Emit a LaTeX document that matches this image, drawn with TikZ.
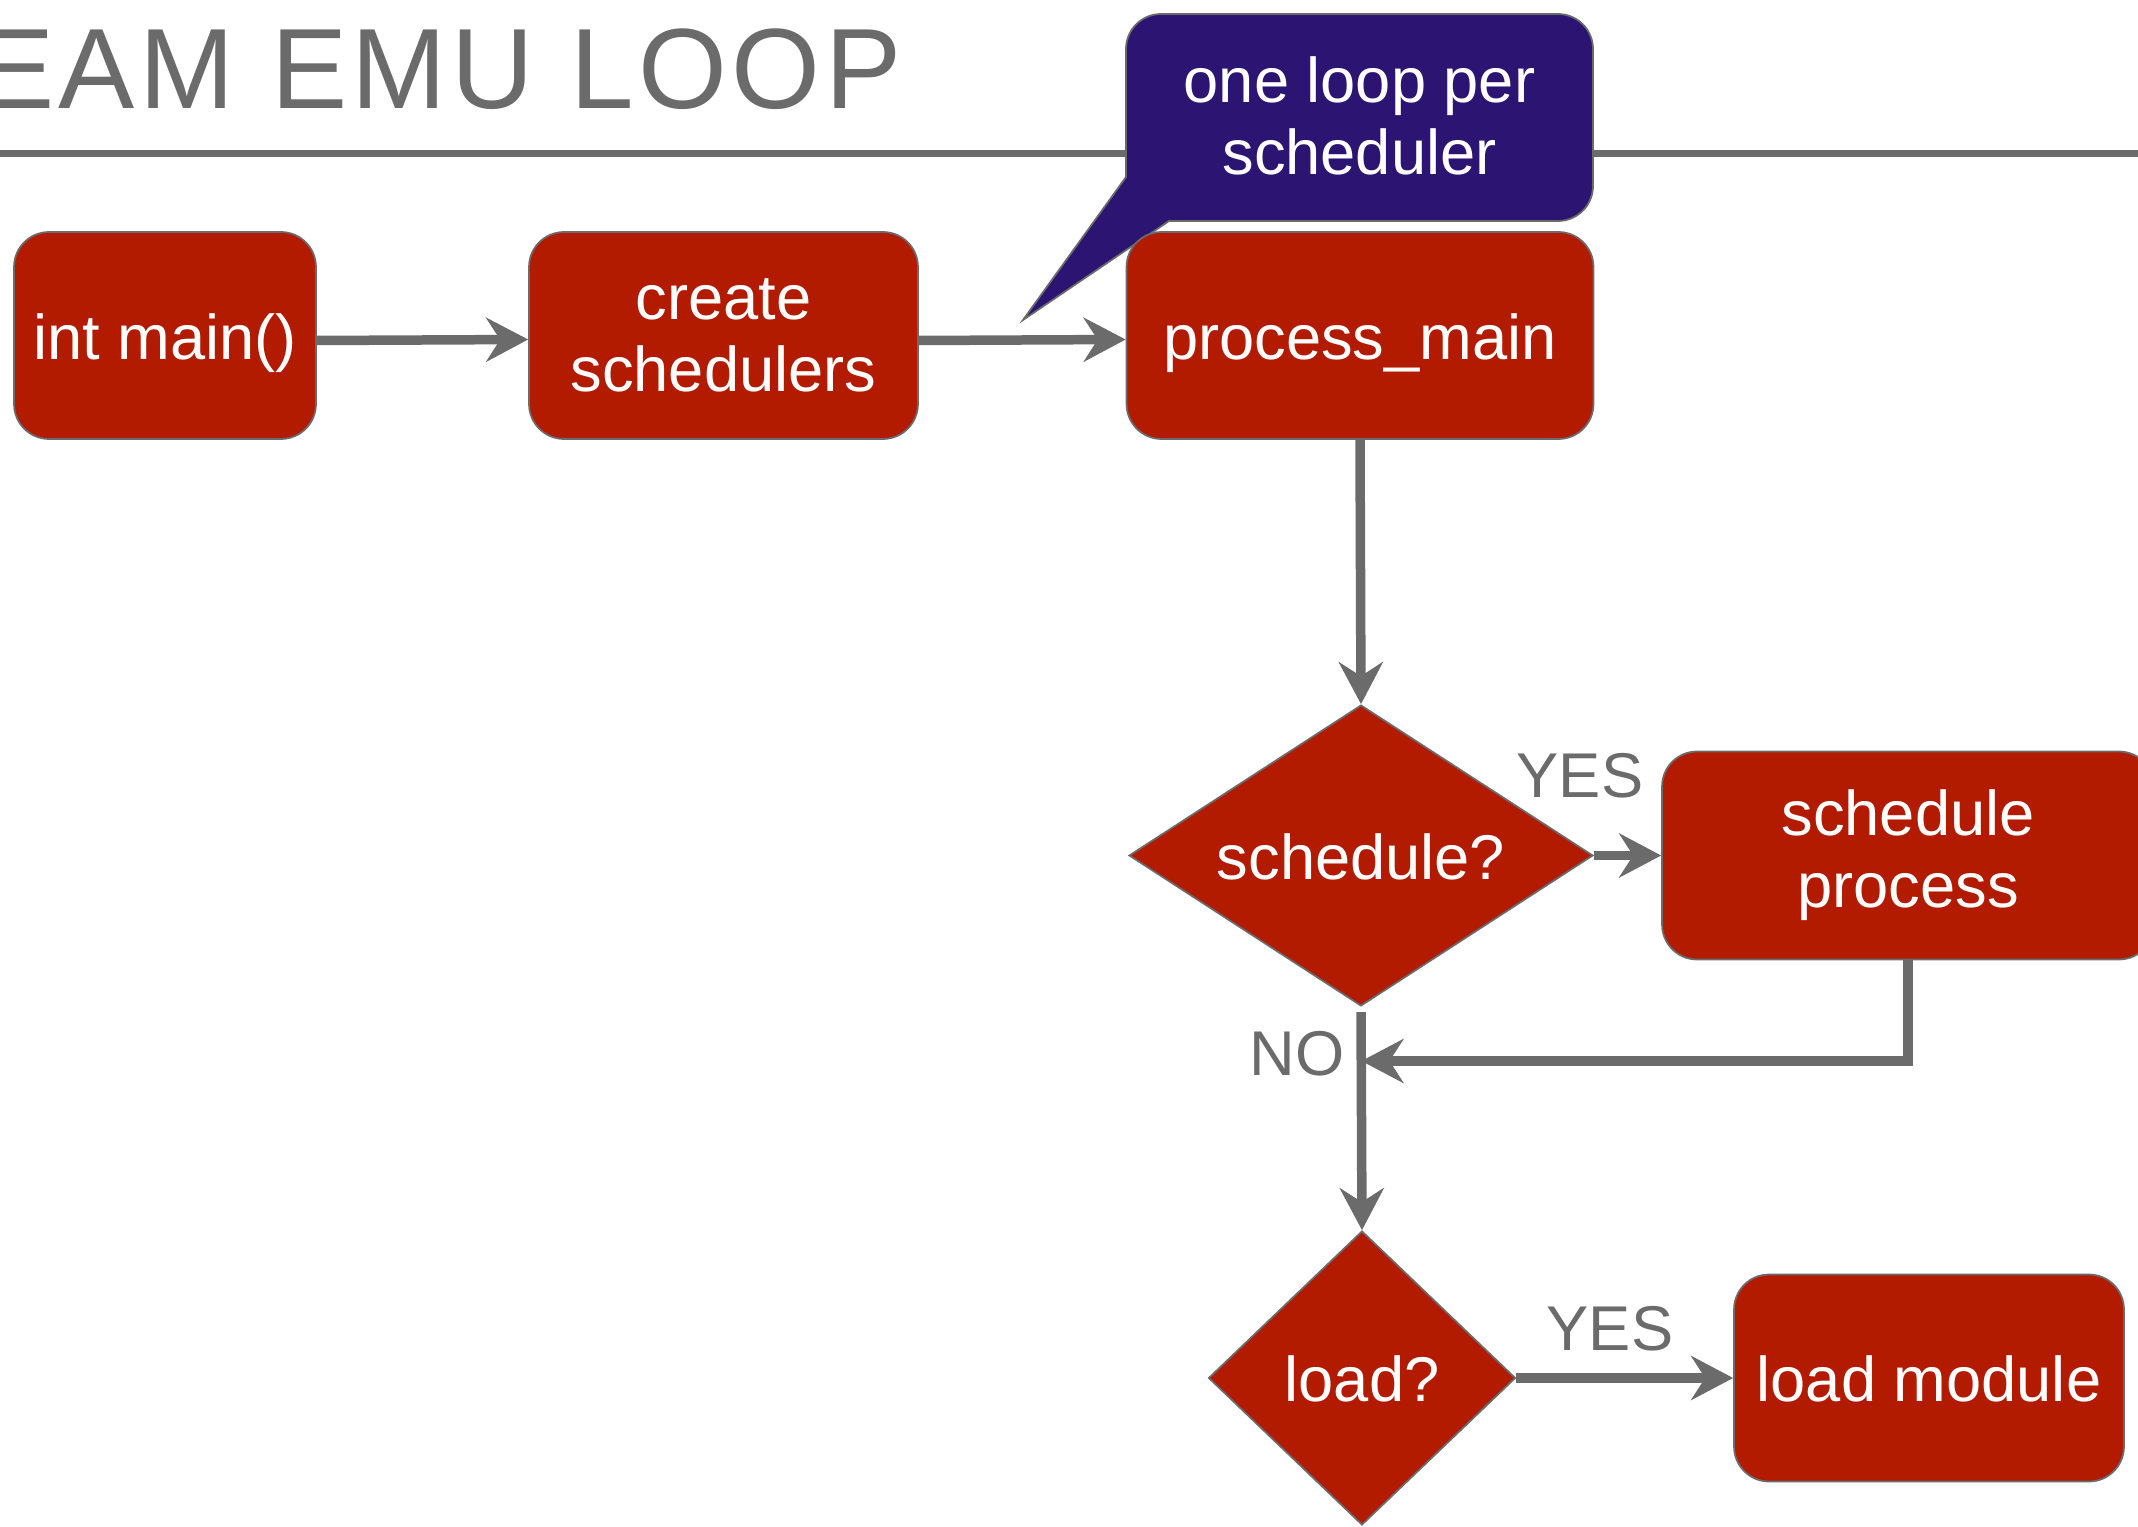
\documentclass[tikz,border=0pt]{standalone}
\usepackage{fontspec}
\setmainfont{Liberation Sans}
\newfontfamily\headingfont[LetterSpace=4]{Liberation Sans}
\usetikzlibrary{arrows.meta,shapes.geometric}
\definecolor{boxred}{HTML}{B21B00}
\definecolor{notepurple}{HTML}{2C1472}
\definecolor{linegray}{HTML}{6B6B6B}
\begin{document}
\begin{tikzpicture}[x=0.02cm,y=-0.02cm,
  bodyfont/.style={font=\fontsize{36}{41}\selectfont},
  oneline/.style={text height=36pt, text depth=9pt},
  stepbox/.style={draw=linegray, line width=1pt, fill=boxred, rounded corners=0.7cm,
    text=white, bodyfont, align=center, minimum height=4.14cm, inner sep=0pt},
  decision/.style={diamond, draw=linegray, line width=1pt, fill=boxred,
    text=white, bodyfont, oneline, inner sep=0pt},
  flow/.style={draw=linegray, line width=0.19cm,
    -{Stealth[length=0.84cm,width=0.88cm,inset=0.28cm]}},
  tag/.style={text=linegray, bodyfont, inner sep=0pt}]
\useasboundingbox (0,0) rectangle (2138,1527);
\clip (0,0) rectangle (2138,1527);

% heading and rule
\node[anchor=base west, inner sep=0pt, text=linegray,
      font=\headingfont\fontsize{65}{70}\selectfont] (title) at (-22,109) {EAM EMU LOOP};
\draw[linegray, line width=0.14cm] (0,154) -- (2138,154);

% call-out bubble
\filldraw[fill=notepurple, draw=linegray, line width=1pt]
  [rounded corners=0.7cm] (1126,177) -- (1126,14) -- (1593,14)
  -- (1593,221) [sharp corners] -- (1169,221) -- (1023,320) -- cycle;
\node[text=white, bodyfont, align=center, inner sep=0pt] (note) at (1359.5,116)
  {one loop per\\scheduler};

% steps
\node[stepbox, oneline, minimum width=6.04cm] (main) at (165,335.5) {int main()};
\node[stepbox, minimum width=7.78cm] (create) at (723.5,335.5) {create\\schedulers};
\node[stepbox, oneline, minimum width=9.34cm] (pmain) at (1360,335.5) {process\_main};
\node[decision, shape aspect=1.54, minimum width=9.28cm, minimum height=6.02cm] (sched) at (1361,855.5) {schedule?};
\node[stepbox, minimum width=9.84cm, minimum height=4.16cm] (sproc) at (1908,855.5) {schedule\\process};
\node[decision, minimum width=6.14cm, minimum height=5.88cm] (loadq) at (1362,1378) {load?};
\node[stepbox, oneline, minimum width=7.8cm] (lmod) at (1929,1378) {load module};

% connectors
\coordinate (join) at (1361.5,1061);
\draw[flow] ([yshift=-0.1cm]main.east) -- ([yshift=-0.08cm]create.west);
\draw[flow] ([yshift=-0.1cm]create.east) -- ([yshift=-0.08cm]pmain.west);
\draw[flow] (pmain.south) -- (sched.north);
\draw[flow] (sched.east) -- (sproc.west);
\draw[flow, shorten <=3pt] (sched.south) -- (loadq.north);
\draw[flow] (sproc.south) |- (join);
\draw[flow] (loadq.east) -- (lmod.west);

% branch labels
\node[tag] (yes1) at (1580,776) {YES};
\node[tag] (no1) at (1297,1054) {NO};
\node[tag] (yes2) at (1610,1329) {YES};
\end{tikzpicture}
\end{document}
